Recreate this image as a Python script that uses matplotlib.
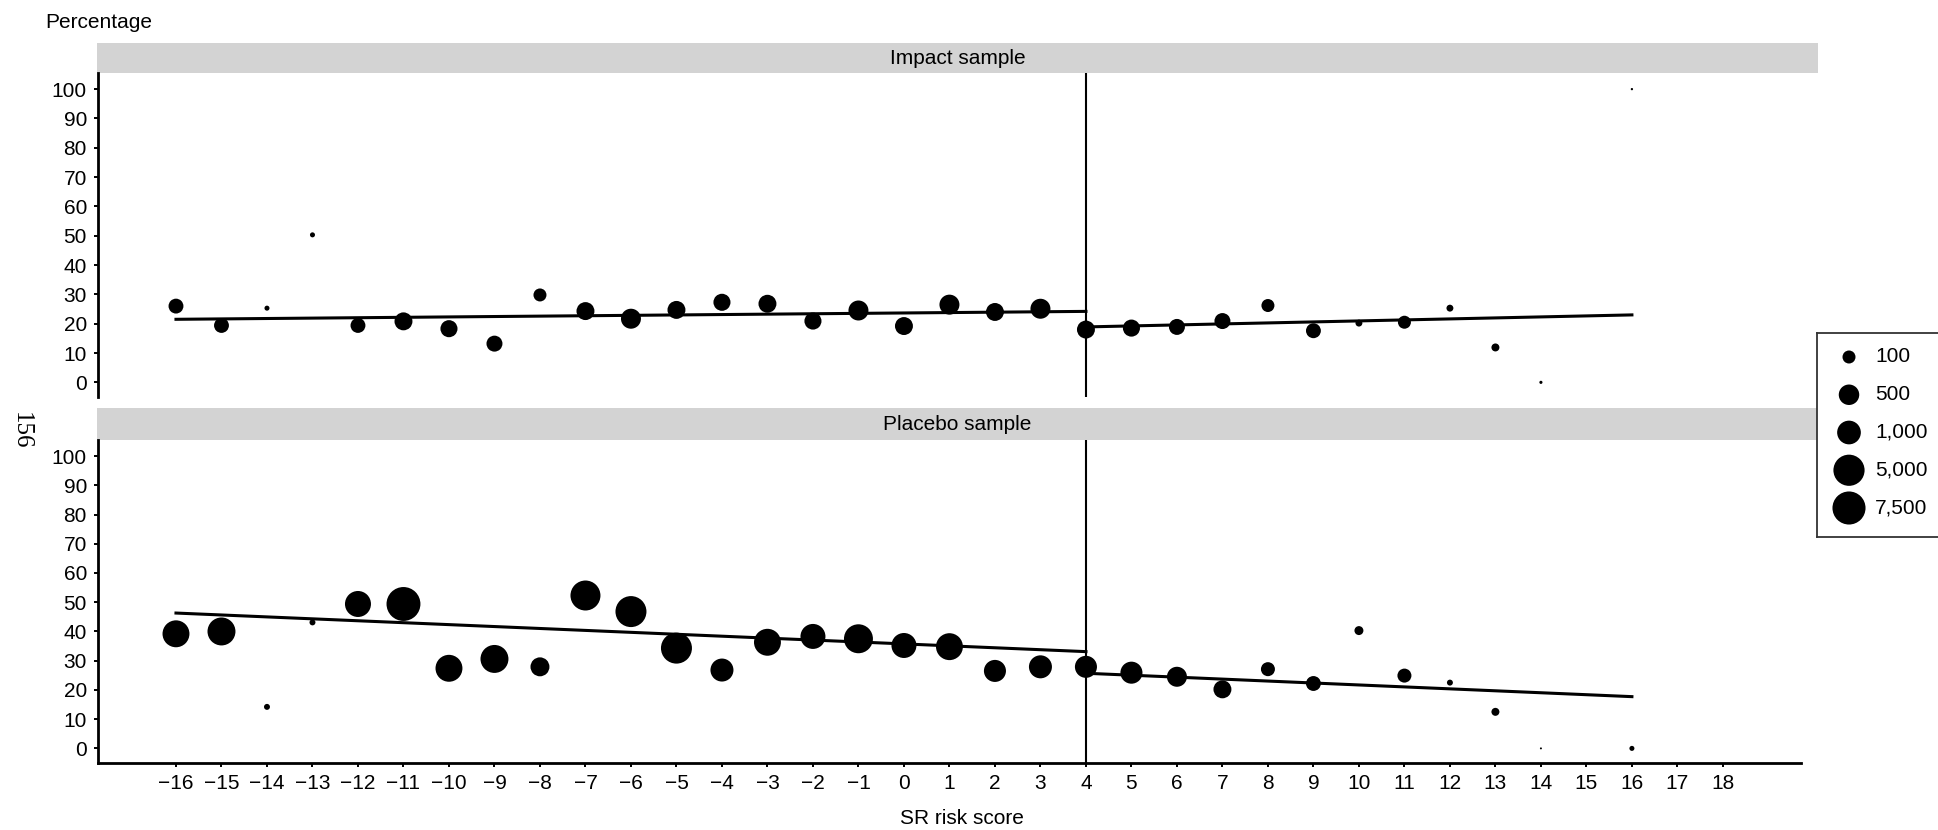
import numpy as np
import matplotlib
matplotlib.use("Agg")
import matplotlib.pyplot as plt

plt.rcParams["font.family"] = ["Liberation Sans", "DejaVu Sans"]

# SR risk score on x, share of cases in percent, n = cell size (dot area)
impact_score = [-16, -15, -14, -13, -12, -11, -10, -9, -8, -7, -6, -5, -4, -3, -2, -1,
                0, 1, 2, 3, 4, 5, 6, 7, 8, 9, 10, 11, 12, 13, 14, 16]
impact_pct = [26.0, 19.4, 25.3, 50.3, 19.4, 20.8, 18.3, 13.2, 29.8, 24.3, 21.7, 24.7,
              27.3, 26.8, 20.9, 24.5, 19.2, 26.5, 24.0, 25.1, 18.0, 18.5, 18.9, 20.9,
              26.2, 17.6, 20.2, 20.5, 25.3, 11.9, 0.0, 100.0]
impact_n = [150, 150, 18, 18, 150, 290, 240, 190, 100, 290, 450, 290, 240, 290, 240, 450,
            290, 450, 290, 450, 290, 240, 190, 190, 100, 150, 27, 100, 27, 34, 12, 10]

placebo_score = [-16, -15, -14, -13, -12, -11, -10, -9, -8, -7, -6, -5, -4, -3, -2, -1,
                 0, 1, 2, 3, 4, 5, 6, 7, 8, 9, 10, 11, 12, 13, 14, 16]
placebo_pct = [39.2, 40.0, 14.2, 43.1, 49.4, 49.4, 27.4, 30.6, 27.9, 52.3, 46.8, 34.3,
               26.8, 36.3, 38.3, 37.5, 35.2, 34.8, 26.5, 27.9, 27.9, 25.9, 24.5, 20.2,
               27.1, 22.2, 40.3, 24.9, 22.5, 12.5, 0.0, 0.0]
placebo_n = [2000, 2500, 22, 22, 1640, 9000, 2000, 2500, 360, 3870, 4800, 4800, 860, 2000,
             1320, 3100, 1320, 2000, 700, 860, 700, 700, 450, 290, 124, 150, 42, 124, 22,
             34, 9, 18]

# linear fits either side of the cutoff (values at segment ends)
cutoff = 4
fit_left_x = [-16, 4]
fit_right_x = [4, 16]
impact_fit_left = [21.5, 24.2]
impact_fit_right = [18.9, 23.0]
placebo_fit_left = [46.3, 33.1]
placebo_fit_right = [25.7, 17.7]

legend_n = [100, 500, 1000, 5000, 7500]
legend_labels = ["100", "500", "1,000", "5,000", "7,500"]

x_ticks = list(range(-16, 19))
y_ticks = list(range(0, 101, 10))

W, H = 1938, 830
FS = 15


def rect(x0, y0, x1, y1):
    # pixel box (top-left origin) -> figure fraction
    return [x0 / W, 1 - y1 / H, (x1 - x0) / W, (y1 - y0) / H]


def dot_size(n):
    # dot diameter grows with log of cell size
    d = 13 + 10.7 * np.log10(np.asarray(n, dtype=float) / 100.0)
    d = np.clip(d, 2.0, None)
    return (d * 0.72) ** 2


fig = plt.figure(figsize=(W / 100, H / 100), dpi=100)

panels = [
    ("Impact sample", impact_score, impact_pct, impact_n, impact_fit_left, impact_fit_right, (43, 73, 397)),
    ("Placebo sample", placebo_score, placebo_pct, placebo_n, placebo_fit_left, placebo_fit_right, (408, 440, 763)),
]

for i, (title, xs, ys, ns, fl, fr, (s_top, a_top, a_bot)) in enumerate(panels):
    # strip
    sax = fig.add_axes(rect(97, s_top, 1818, a_top))
    sax.set_facecolor("#d3d3d3")
    sax.set_xticks([])
    sax.set_yticks([])
    for sp in sax.spines.values():
        sp.set_visible(False)
    sax.text(0.5, 0.5, title, ha="center", va="center", fontsize=FS, transform=sax.transAxes)

    ax = fig.add_axes(rect(98, a_top, 1818, a_bot))
    ax.scatter(xs, ys, s=dot_size(ns), color="black", edgecolors="none", zorder=3)
    ax.plot(fit_left_x, fl, color="black", lw=2.2, zorder=2)
    ax.plot(fit_right_x, fr, color="black", lw=2.2, zorder=2)
    ax.axvline(cutoff, color="black", lw=1.5, zorder=1)

    ax.set_xlim(-17.714, 20.09)
    ax.set_ylim(-5, 105.5)
    ax.set_yticks(y_ticks)
    ax.spines["top"].set_visible(False)
    ax.spines["right"].set_visible(False)
    ax.spines["left"].set_linewidth(2.0)
    ax.tick_params(axis="y", length=3, width=1.4, pad=5, labelsize=FS)

    if i == 0:
        ax.spines["bottom"].set_visible(False)
        ax.set_xticks([])
    else:
        ax.spines["bottom"].set_linewidth(2.0)
        ax.spines["bottom"].set_bounds(-17.714, 19.71)
        ax.set_xticks(x_ticks)
        ax.tick_params(axis="x", length=3, width=1.4, pad=5, labelsize=FS)

fig.text(45 / W, 1 - 22 / H, "Percentage", ha="left", va="center", fontsize=FS)
fig.text(962 / W, 1 - 818 / H, "SR risk score", ha="center", va="center", fontsize=FS)
fig.text(21 / W, 1 - 431 / H, "156", ha="center", va="center", rotation=-90,
         fontsize=18, family=["Liberation Serif", "DejaVu Serif"])

# size legend in a framed box at the right edge
lax = fig.add_axes(rect(1817, 333, 1945, 537))
lax.set_xlim(0, 128)
lax.set_ylim(204, 0)
lax.set_xticks([])
lax.set_yticks([])
for sp in lax.spines.values():
    sp.set_linewidth(1.3)
    sp.set_edgecolor("#333333")
rows = np.linspace(24, 175, len(legend_n))
lax.scatter(np.full(len(legend_n), 32), rows, s=dot_size(legend_n), color="black", edgecolors="none")
for r, lab in zip(rows, legend_labels):
    lax.text(58, r, lab, ha="left", va="center", fontsize=FS)

fig.savefig("out.png", dpi=100)
